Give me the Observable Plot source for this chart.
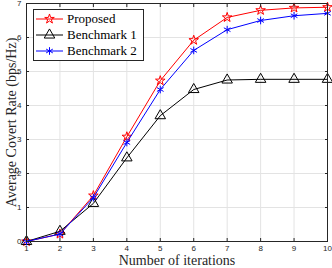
<!DOCTYPE html>
<html><head><meta charset="utf-8">
<script src="https://cdn.jsdelivr.net/npm/d3@7"></script>
<script src="https://cdn.jsdelivr.net/npm/@observablehq/plot@0.6"></script>
<style>
body{margin:0;background:#fff;}
#wrap{position:relative;width:332px;height:268px;}
#legend{position:absolute;left:33px;top:9px;width:111px;height:52px;border:1px solid #262626;background:#fff;box-sizing:border-box;font-family:"Liberation Serif",serif;font-size:13px;color:#000;padding-top:1px;white-space:nowrap;overflow:hidden;}
.row{display:flex;align-items:center;height:16px;white-space:nowrap;}
.row svg{margin-left:2px;margin-right:4px;flex:none;}
</style></head><body><div id="wrap"></div>
<script>
const iterations = [1, 2, 3, 4, 5, 6, 7, 8, 9, 10];
const proposed   = [0, 0.22, 1.35, 3.08, 4.73, 5.92, 6.59, 6.80, 6.87, 6.89];
const benchmark1 = [0, 0.30, 1.12, 2.46, 3.70, 4.47, 4.75, 4.77, 4.77, 4.77];
const benchmark2 = [0, 0.22, 1.29, 2.91, 4.47, 5.62, 6.23, 6.50, 6.64, 6.71];
const seriesNames = ["Proposed", "Benchmark 1", "Benchmark 2"];
const seriesColors = ["#ff0000", "#000000", "#0000ff"];
const seriesSymbols = ["star", "triangle", "asterisk"];
const seriesRadius = [3, 3.9, 3.6];
const xTicks = [1, 2, 3, 4, 5, 6, 7, 8, 9, 10];
const yTicks = [0, 1, 2, 3, 4, 5, 6, 7];
const xLabel = "Number of iterations";
const yLabel = "Average Covert Rate (bps/Hz)";

const values = [proposed, benchmark1, benchmark2];
const rows = [];
values.forEach((arr, s) => arr.forEach((v, i) => rows.push({x: iterations[i], y: v, s})));

const seriesMarks = [];
values.forEach((arr, s) => {
  const data = rows.filter(d => d.s === s);
  seriesMarks.push(Plot.line(data, {x: "x", y: "y", stroke: seriesColors[s], strokeWidth: 1}));
  seriesMarks.push(Plot.dot(data, {x: "x", y: "y", symbol: () => seriesSymbols[s], r: seriesRadius[s], stroke: seriesColors[s], fill: "none", strokeWidth: 1}));
});

const axisColor = "#262626";
const chart = Plot.plot({
  width: 332, height: 268,
  marginLeft: 26, marginRight: 5, marginTop: 3, marginBottom: 27,
  x: {domain: [1, 10]},
  y: {domain: [0, 7]},
  symbol: {type: "identity"},
  style: {background: "#fff", overflow: "visible"},
  marks: [
    Plot.gridX(xTicks, {stroke: "#e3e3e3", strokeOpacity: 1}),
    Plot.gridY(yTicks, {stroke: "#e3e3e3", strokeOpacity: 1}),
    ...seriesMarks,
    Plot.frame({stroke: axisColor, strokeWidth: 1}),
    Plot.axisX(xTicks, {anchor: "bottom", tickSize: -3, tickPadding: 7, label: null, stroke: axisColor, fill: axisColor, fontFamily: "Liberation Sans", fontSize: 8}),
    Plot.axisX(xTicks, {anchor: "top", tickSize: -3, tickFormat: () => "", label: null, stroke: axisColor}),
    Plot.axisY(yTicks, {anchor: "left", tickSize: -3, tickPadding: 8, label: null, stroke: axisColor, fill: axisColor, fontFamily: "Liberation Sans", fontSize: 8}),
    Plot.axisY(yTicks, {anchor: "right", tickSize: -3, tickFormat: () => "", label: null, stroke: axisColor}),
    Plot.text([xLabel], {frameAnchor: "bottom", dy: 23, text: d => d, textAnchor: "middle", fontFamily: "Liberation Serif", fontSize: 14, letterSpacing: 0.2, fill: axisColor}),
    Plot.text([yLabel], {frameAnchor: "left", dx: -15, rotate: -90, text: d => d, textAnchor: "middle", fontFamily: "Liberation Serif", fontSize: 14, letterSpacing: 1.3, fill: axisColor})
  ]
});
const wrap = document.getElementById("wrap");
wrap.appendChild(chart);

const legend = document.createElement("div");
legend.id = "legend";
seriesNames.forEach((name, s) => {
  const row = document.createElement("div");
  row.className = "row";
  const svg = d3.create("svg").attr("width", 27).attr("height", 14);
  svg.append("line").attr("x1", 0).attr("x2", 27).attr("y1", 7).attr("y2", 7).attr("stroke", seriesColors[s]);
  const symMap = {star: d3.symbolStar, triangle: d3.symbolTriangle, asterisk: d3.symbolAsterisk};
  svg.append("path").attr("transform", "translate(13.5,7)")
    .attr("d", d3.symbol(symMap[seriesSymbols[s]], Math.PI * seriesRadius[s] * seriesRadius[s])())
    .attr("fill", "none").attr("stroke", seriesColors[s]);
  row.appendChild(svg.node());
  const t = document.createElement("span");
  t.textContent = name;
  row.appendChild(t);
  legend.appendChild(row);
});
wrap.appendChild(legend);
</script>
</body></html>
